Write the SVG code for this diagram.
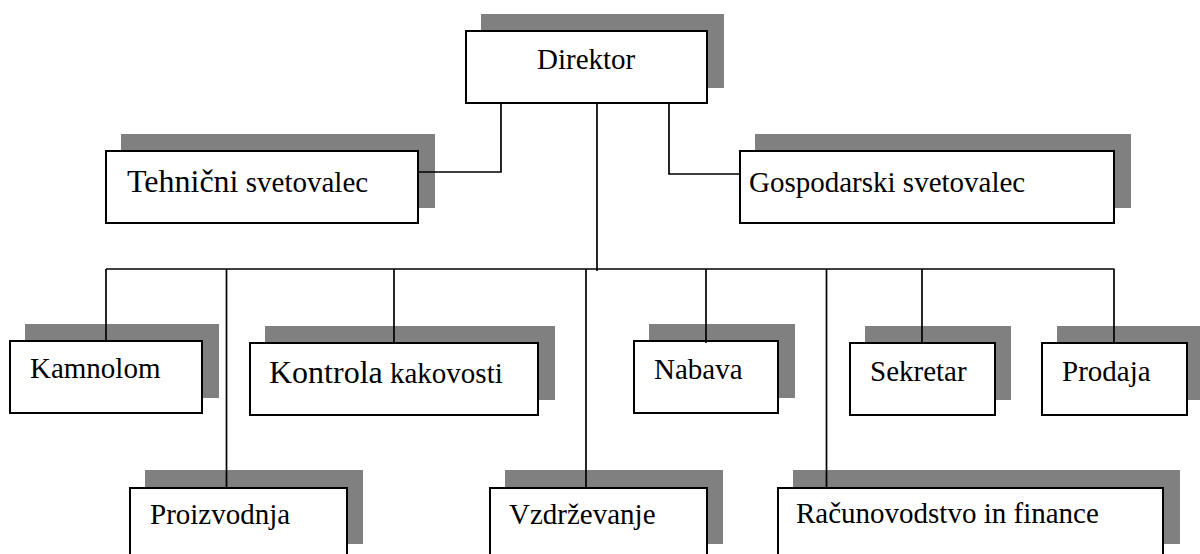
<svg xmlns="http://www.w3.org/2000/svg" width="1200" height="554" viewBox="0 0 1200 554">
<style>
.sh{fill:#808080;stroke:none}
.bx{fill:#ffffff;stroke:#000000;stroke-width:2}
.t{font-family:'Liberation Serif','Times New Roman','DejaVu Serif',serif;font-size:29px;fill:#000000}
.big{font-size:32px}
.c{stroke:#000000;stroke-width:1.7;fill:none}
</style>
<rect width="1200" height="554" fill="#ffffff"/>
<g id="direktor">
<rect class="sh" x="481" y="14" width="243" height="74"/>
<rect class="bx" x="466" y="31" width="241" height="72"/>
<text class="t" font-family="Liberation Serif, serif" x="537" y="69">Direktor</text>
</g>
<g id="tehnicni">
<rect class="sh" x="121" y="134" width="314" height="74"/>
<rect class="bx" x="106" y="151" width="312" height="72"/>
<text class="t" x="127" y="192"><tspan class="big">Tehnični</tspan> svetovalec</text>
</g>
<g id="gospodarski">
<rect class="sh" x="755" y="134" width="376" height="74"/>
<rect class="bx" x="740" y="151" width="374" height="72"/>
<text class="t" x="749" y="192">Gospodarski svetovalec</text>
</g>
<g id="kamnolom">
<rect class="sh" x="25" y="324" width="194" height="74"/>
<rect class="bx" x="10" y="341" width="192" height="72"/>
<text class="t" x="30" y="378">Kamnolom</text>
</g>
<g id="kontrola">
<rect class="sh" x="265" y="326" width="290" height="74"/>
<rect class="bx" x="250" y="343" width="288" height="72"/>
<text class="t" x="269" y="383"><tspan class="big">Kontrola</tspan> kakovosti</text>
</g>
<g id="nabava">
<rect class="sh" x="649" y="324" width="146" height="74"/>
<rect class="bx" x="634" y="341" width="144" height="72"/>
<text class="t" x="654" y="379">Nabava</text>
</g>
<g id="sekretar">
<rect class="sh" x="865" y="326" width="146" height="74"/>
<rect class="bx" x="850" y="343" width="145" height="72"/>
<text class="t" x="870" y="381">Sekretar</text>
</g>
<g id="prodaja">
<rect class="sh" x="1057" y="326" width="146" height="74"/>
<rect class="bx" x="1042" y="343" width="145" height="72"/>
<text class="t" x="1062" y="381">Prodaja</text>
</g>
<g id="proizvodnja">
<rect class="sh" x="145" y="470" width="218" height="74"/>
<rect class="bx" x="130" y="488" width="217" height="72"/>
<text class="t" x="150" y="524">Proizvodnja</text>
</g>
<g id="vzdrzevanje">
<rect class="sh" x="505" y="470" width="218" height="74"/>
<rect class="bx" x="490" y="488" width="217" height="72"/>
<text class="t" x="509" y="524">Vzdrževanje</text>
</g>
<g id="racunovodstvo">
<rect class="sh" x="793" y="470" width="387" height="74"/>
<rect class="bx" x="778" y="488" width="385" height="72"/>
<text class="t" x="796" y="523">Računovodstvo in finance</text>
</g>
<g id="connectors">
<path class="c" d="M501 103 V172 H418"/>
<path class="c" d="M669 103 V174 H740"/>
<path class="c" d="M597 103 V271"/>
<path class="c" d="M106 269 H1114.5"/>
<path class="c" d="M106 269 V341"/>
<path class="c" d="M394 269 V343"/>
<path class="c" d="M706 269 V343"/>
<path class="c" d="M922 269 V343"/>
<path class="c" d="M1114 269 V343"/>
<path class="c" d="M226.5 269 V488"/>
<path class="c" d="M586 269 V488"/>
<path class="c" d="M826.5 269 V488"/>
</g>
</svg>
